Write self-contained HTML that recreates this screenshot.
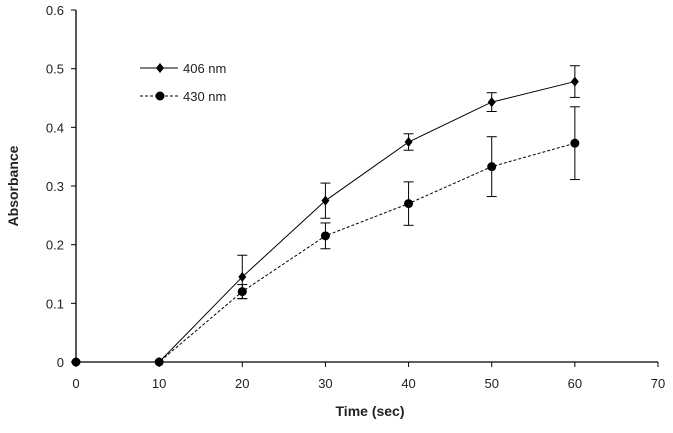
<!DOCTYPE html>
<html><head><meta charset="utf-8"><style>
body{margin:0;background:#fff}
svg text{font-family:"Liberation Sans",sans-serif;fill:#222}
</style></head><body>
<svg id="chart" width="673" height="428" xmlns="http://www.w3.org/2000/svg"></svg>
<script>
const xValues=[0,10,20,30,40,50,60];
const series406=[0,0,0.145,0.275,0.375,0.443,0.478];
const err406=[0,0,0.037,0.03,0.014,0.016,0.027];
const series430=[0,0,0.12,0.215,0.27,0.333,0.373];
const err430=[0,0,0.012,0.022,0.037,0.051,0.062];
const xTicks=[0,10,20,30,40,50,60,70];
const yTicks=[0,0.1,0.2,0.3,0.4,0.5,0.6];

const svg=document.getElementById('chart');
const NS='http://www.w3.org/2000/svg';
const X0=76,X1=658,Y0=362,Y1=10;
const sx=v=>X0+(v-0)/70*(X1-X0);
const sy=v=>Y0-(v/0.6)*(Y0-Y1);
function mk(tag,attrs,parent){const e=document.createElementNS(NS,tag);for(const k in attrs)e.setAttribute(k,attrs[k]);(parent||svg).appendChild(e);return e;}

const axes=mk('g',{});


mk('line',{x1:X0,y1:Y1,x2:X0,y2:Y0,stroke:'#000','stroke-width':1.3},axes);
mk('line',{x1:X0,y1:Y0,x2:X1,y2:Y0,stroke:'#000','stroke-width':1.3},axes);
yTicks.forEach(t=>{
  mk('line',{x1:X0-5,y1:sy(t),x2:X0,y2:sy(t),stroke:'#000'},axes);
  const tx=mk('text',{x:X0-12,y:sy(t)+5,'text-anchor':'end','font-size':13},axes);
  tx.textContent=t===0?'0':t.toFixed(1);
  
  
});
xTicks.forEach(t=>{
  mk('line',{x1:sx(t),y1:Y0,x2:sx(t),y2:Y0+5,stroke:'#000'},axes);
  const tx=mk('text',{x:sx(t),y:Y0+26,'text-anchor':'middle','font-size':13},axes);
  tx.textContent=t;
  
  
});
const xt=mk('text',{x:370,y:416,'text-anchor':'middle','font-size':14,'font-weight':'bold'});
xt.textContent='Time (sec)';


const yt=mk('text',{x:18,y:186,'text-anchor':'middle','font-size':14,'font-weight':'bold',transform:'rotate(-90 18 186)'});
yt.textContent='Absorbance';



function drawSeries(vals,errs,dash,marker,name){
  const g=mk('g',{});
  
  
  const pts=xValues.map((x,i)=>sx(x)+','+sy(vals[i])).join(' ');
  mk('polyline',{points:pts,fill:'none',stroke:'#000','stroke-width':1,'stroke-dasharray':dash},g);
  xValues.forEach((x,i)=>{
    const cx=sx(x),cy=sy(vals[i]);
    if(errs[i]>0){
      const t=sy(vals[i]+errs[i]),b=sy(vals[i]-errs[i]);
      mk('line',{x1:cx,y1:t,x2:cx,y2:b,stroke:'#000'},g);
      mk('line',{x1:cx-5,y1:t,x2:cx+5,y2:t,stroke:'#000'},g);
      mk('line',{x1:cx-5,y1:b,x2:cx+5,y2:b,stroke:'#000'},g);
    }
    if(marker==='d') mk('polygon',{points:`${cx},${cy-5} ${cx+4},${cy} ${cx},${cy+5} ${cx-4},${cy}`,fill:'#000'},g);
    else mk('circle',{cx:cx,cy:cy,r:4.5,fill:'#000'},g);
  });
}
drawSeries(series430,err430,'3,2','c','series-430nm');
drawSeries(series406,err406,'','d','series-406nm');

const lg=mk('g',{});


mk('line',{x1:140,y1:68,x2:178,y2:68,stroke:'#000'},lg);
mk('polygon',{points:'160,63 164,68 160,73 156,68',fill:'#000'},lg);
let t1=mk('text',{x:183,y:73,'font-size':13},lg);t1.textContent='406 nm';
mk('line',{x1:140,y1:96,x2:178,y2:96,stroke:'#000','stroke-dasharray':'3,2'},lg);
mk('circle',{cx:160,cy:96,r:4.5,fill:'#000'},lg);
let t2=mk('text',{x:183,y:101,'font-size':13},lg);t2.textContent='430 nm';
</script>
</body></html>
